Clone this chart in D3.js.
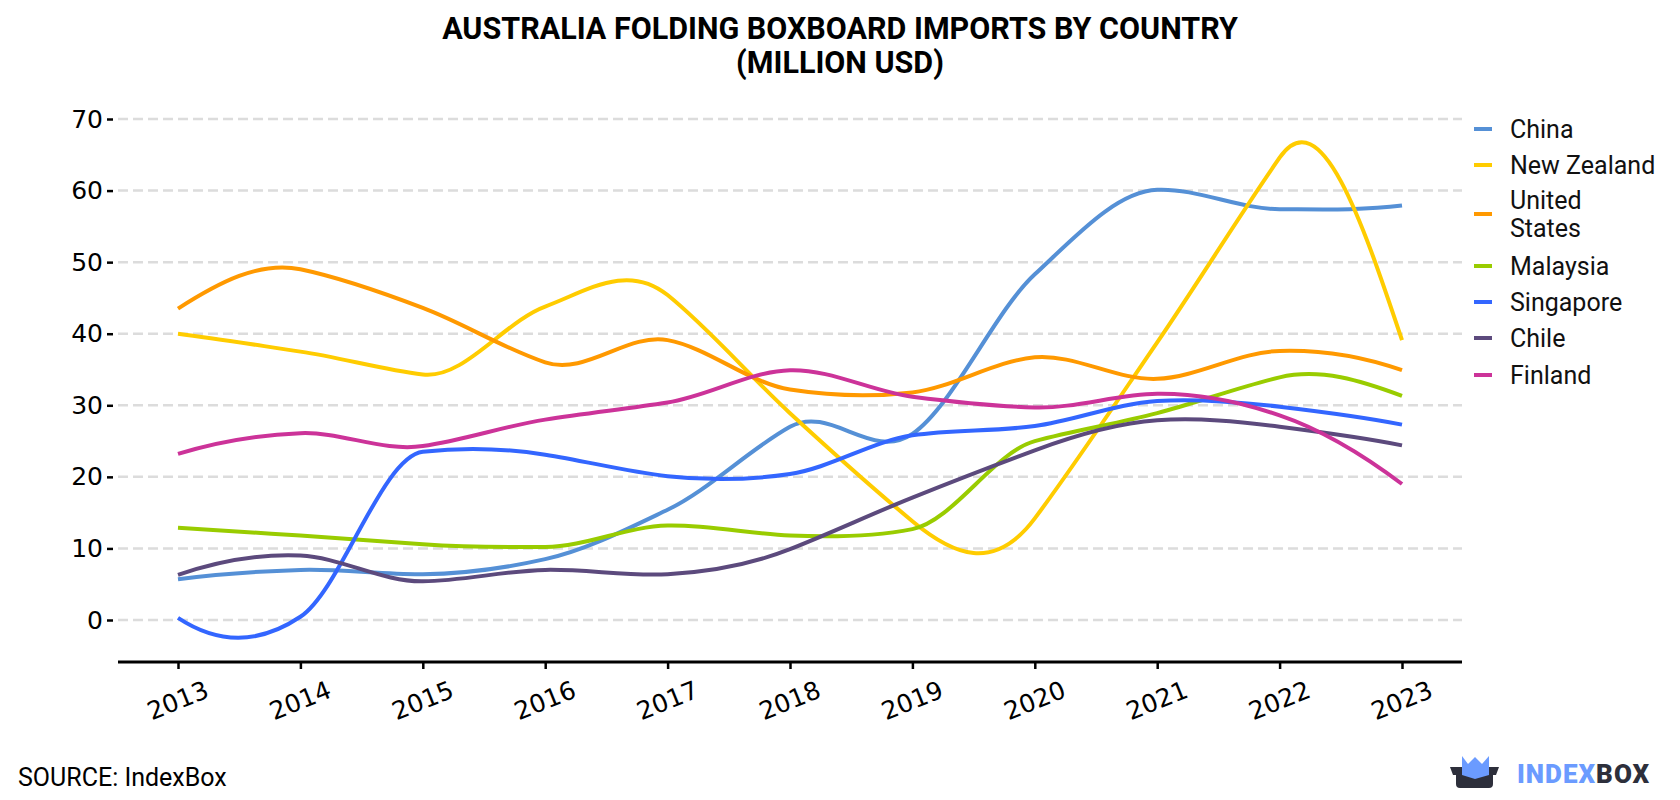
<!DOCTYPE html>
<html>
<head>
<meta charset="utf-8">
<script src="https://cdn.jsdelivr.net/npm/d3@7"></script>
<style>
  html, body { margin: 0; padding: 0; background: #fff; }
  svg { display: block; }
</style>
</head>
<body>
<svg id="chart" width="1680" height="800"></svg>
<script>
const years = [2013, 2014, 2015, 2016, 2017, 2018, 2019, 2020, 2021, 2022, 2023];
const yTicks = [0, 10, 20, 30, 40, 50, 60, 70];
const seriesNames = ["China", "New Zealand", "United States", "Malaysia", "Singapore", "Chile", "Finland"];
const seriesColors = ["#5590d6", "#ffcc00", "#ff9900", "#99cc00", "#3366ff", "#5c4a7d", "#cc3399"];
const china      = [5.7, 7.0, 6.4, 8.5, 15.4, 27.0, 26.0, 48.3, 60.1, 57.4, 57.9];
const newZealand = [40.0, 37.5, 34.3, 43.8, 45.4, 28.9, 13.8, 14.2, 38.8, 64.6, 39.1];
const unitedStates = [43.5, 49.0, 43.6, 36.0, 39.1, 32.2, 31.8, 36.7, 33.7, 37.6, 34.9];
const malaysia   = [12.9, 11.8, 10.6, 10.2, 13.2, 11.8, 12.7, 25.0, 28.9, 33.9, 31.3];
const singapore  = [0.3, 0.45, 23.5, 23.1, 20.1, 20.4, 25.8, 27.1, 30.6, 29.8, 27.3];
const chile      = [6.3, 9.0, 5.4, 7.0, 6.4, 9.9, 17.1, 23.7, 27.9, 27.0, 24.4];
const finland    = [23.2, 26.1, 24.3, 28.0, 30.4, 34.9, 31.2, 29.7, 31.6, 28.6, 19.0];
const seriesValues = [china, newZealand, unitedStates, malaysia, singapore, chile, finland];

// Custom d3 curve: Akima spline interpolation
function CurveAkima(context) { this._context = context; }
CurveAkima.prototype = {
  areaStart() { this._line = 0; },
  areaEnd() { this._line = NaN; },
  lineStart() { this._x = []; this._y = []; },
  point(x, y) { this._x.push(+x); this._y.push(+y); },
  lineEnd() {
    const X = this._x, Y = this._y, n = X.length, ctx = this._context;
    if (!n) return;
    ctx.moveTo(X[0], Y[0]);
    if (n < 3) { for (let i = 1; i < n; i++) ctx.lineTo(X[i], Y[i]); return; }
    const m = new Array(n + 3);
    for (let k = 0; k < n - 1; k++) m[k + 2] = (Y[k + 1] - Y[k]) / (X[k + 1] - X[k]);
    m[1] = 2 * m[2] - m[3];
    m[0] = 2 * m[1] - m[2];
    m[n + 1] = 2 * m[n] - m[n - 1];
    m[n + 2] = 2 * m[n + 1] - m[n];
    const t = new Array(n);
    for (let i = 0; i < n; i++) {
      const mPrev2 = m[i], mPrev = m[i + 1], mCur = m[i + 2], mNext = m[i + 3];
      const w1 = Math.abs(mNext - mCur), w2 = Math.abs(mPrev - mPrev2);
      t[i] = (w1 + w2) > 1e-12 ? (w1 * mPrev + w2 * mCur) / (w1 + w2) : (mPrev + mCur) / 2;
    }
    for (let i = 0; i < n - 1; i++) {
      const h = X[i + 1] - X[i];
      ctx.bezierCurveTo(X[i] + h / 3, Y[i] + t[i] * h / 3,
                        X[i + 1] - h / 3, Y[i + 1] - t[i + 1] * h / 3,
                        X[i + 1], Y[i + 1]);
    }
  }
};
const curveAkima = context => new CurveAkima(context);

const svg = d3.select("#chart");

const x = d3.scaleLinear().domain([2013, 2023]).range([178, 1402]);
const y = d3.scaleLinear().domain([0, 70]).range([620, 119]);
const axisY = 662;
const plotLeft = 118, plotRight = 1462;

// Title
const title = svg.append("text")
  .attr("x", 840).attr("text-anchor", "middle")
  .style("font-family", "Roboto, sans-serif").style("font-weight", "700")
  .style("font-size", "30.5px").attr("fill", "#000");
title.append("tspan").attr("x", 840).attr("y", 39).text("AUSTRALIA FOLDING BOXBOARD IMPORTS BY COUNTRY");
title.append("tspan").attr("x", 840).attr("y", 73).text("(MILLION USD)");

// Grid lines
svg.append("g").selectAll("line").data(yTicks).join("line")
  .attr("x1", plotLeft).attr("x2", plotRight)
  .attr("y1", d => y(d)).attr("y2", d => y(d))
  .attr("stroke", "#dcdcdc").attr("stroke-width", 2.5)
  .attr("stroke-dasharray", "10,5");

// Y axis (ticks + labels only)
const yAxis = d3.axisLeft(y).tickValues(yTicks).tickSize(6).tickPadding(4).tickFormat(d3.format("d"));
const gy = svg.append("g").attr("transform", `translate(113,0)`).call(yAxis);
gy.select(".domain").remove();
gy.selectAll(".tick line").attr("stroke", "#000").attr("stroke-width", 2.5);
gy.selectAll(".tick text")
  .style("font-family", "'DejaVu Sans', sans-serif").style("font-size", "25px").attr("fill", "#000");

// X axis
const xAxis = d3.axisBottom(x).tickValues(years).tickSize(7).tickSizeOuter(0).tickFormat(d3.format("d"));
const gx = svg.append("g").attr("transform", `translate(0,${axisY})`).call(xAxis);
gx.select(".domain").remove();
gx.append("line").attr("x1", plotLeft).attr("x2", plotRight).attr("y1", 0).attr("y2", 0)
  .attr("stroke", "#000").attr("stroke-width", 3);
gx.selectAll(".tick line").attr("stroke", "#000").attr("stroke-width", 2.5);
gx.selectAll(".tick text")
  .style("font-family", "'DejaVu Sans', sans-serif").style("font-size", "25px").attr("fill", "#000")
  .attr("text-anchor", "middle").attr("dy", null)
  .attr("y", 40).attr("dominant-baseline", "middle")
  .attr("transform", "rotate(-22,0,40)");

// Lines
const line = d3.line()
  .x((d, i) => x(years[i]))
  .y(d => y(d))
  .curve(curveAkima);

svg.append("g").selectAll("path").data(seriesValues).join("path")
  .attr("d", d => line(d))
  .attr("fill", "none")
  .attr("stroke", (d, i) => seriesColors[i])
  .attr("stroke-width", 4)
  .attr("stroke-linecap", "butt");

// Legend
const legendItems = [
  { name: ["China"], y: 129 },
  { name: ["New Zealand"], y: 165 },
  { name: ["United", "States"], y: 214 },
  { name: ["Malaysia"], y: 266 },
  { name: ["Singapore"], y: 302 },
  { name: ["Chile"], y: 338 },
  { name: ["Finland"], y: 375 }
];
const lg = svg.append("g");
legendItems.forEach((item, i) => {
  lg.append("line").attr("x1", 1474).attr("x2", 1492).attr("y1", item.y).attr("y2", item.y)
    .attr("stroke", seriesColors[i]).attr("stroke-width", 4);
  const t = lg.append("text")
    .style("font-family", "Roboto, sans-serif").style("font-size", "25px").attr("fill", "#111");
  const n = item.name.length;
  item.name.forEach((s, k) => {
    t.append("tspan").attr("x", 1510)
      .attr("y", item.y + (k - (n - 1) / 2) * 28 + 9)
      .text(s);
  });
});

// Source
svg.append("text").attr("x", 18).attr("y", 786)
  .style("font-family", "Roboto, sans-serif").style("font-size", "25px").attr("fill", "#000")
  .text("SOURCE: IndexBox");

// Logo
const logo = svg.append("g");
logo.append("path").attr("d", "M1462,756 L1468,764 L1475,757 L1482,764 L1489,756 L1489,775 L1462,775 Z").attr("fill", "#6b9bff");
logo.append("path").attr("d", "M1450,767 L1499,767 L1496,775 L1493,775 L1493,784 Q1493,788 1489,788 L1460,788 Q1456,788 1456,784 L1456,775 L1453,775 Z").attr("fill", "#2d2f3b");
logo.append("path").attr("d", "M1462,767 L1489,767 L1489,775 L1475,779 L1462,775 Z").attr("fill", "#6b9bff");
const lt = logo.append("text").attr("x", 1517).attr("y", 783)
  .style("font-family", "Roboto, sans-serif").style("font-weight", "900").style("font-size", "26px")
  .style("letter-spacing", "1px");
lt.append("tspan").attr("fill", "#6b9bff").text("INDEX");
lt.append("tspan").attr("fill", "#2d2f3b").text("BOX");
</script>
</body>
</html>
